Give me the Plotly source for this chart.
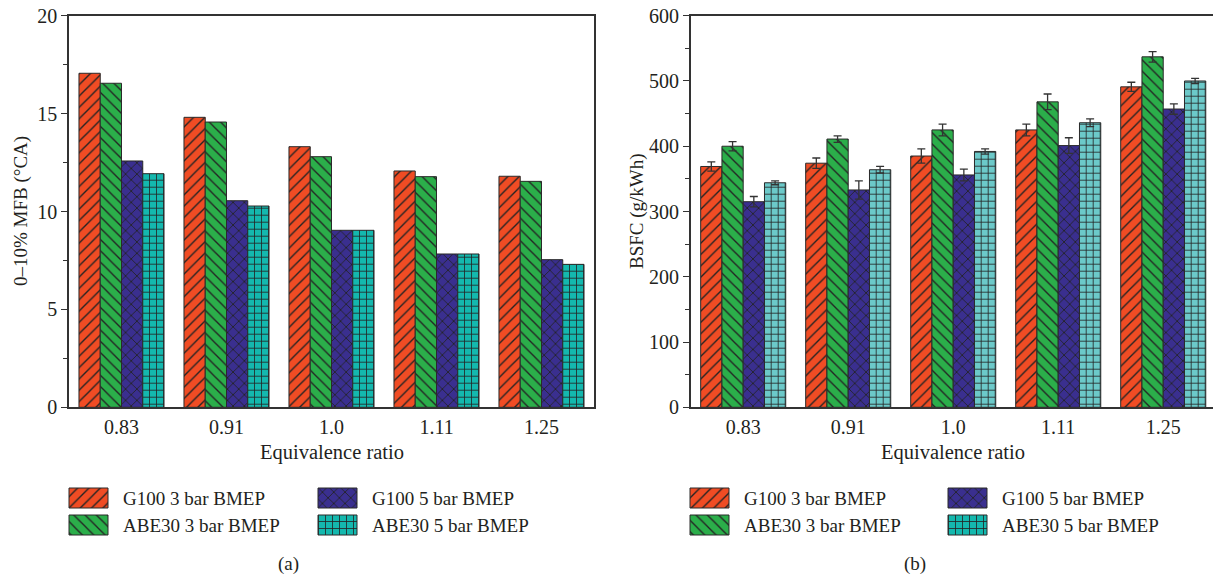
import plotly.graph_objects as go

categories = ["0.83", "0.91", "1.0", "1.11", "1.25"]
series_names = ["G100 3 bar BMEP", "ABE30 3 bar BMEP", "G100 5 bar BMEP", "ABE30 5 bar BMEP"]

mfb_g100_3 = [17.06, 14.81, 13.31, 12.07, 11.80]
mfb_abe30_3 = [16.55, 14.57, 12.80, 11.78, 11.54]
mfb_g100_5 = [12.58, 10.55, 9.04, 7.83, 7.54]
mfb_abe30_5 = [11.93, 10.28, 9.04, 7.83, 7.30]

bsfc_g100_3 = [369, 374, 385, 425, 491]
bsfc_abe30_3 = [400, 411, 425, 468, 537]
bsfc_g100_5 = [315, 333, 356, 401, 457]
bsfc_abe30_5 = [344, 364, 392, 436, 500]

err_g100_3 = [7, 8, 11, 9, 7]
err_abe30_3 = [7, 5, 9, 12, 8]
err_g100_5 = [8, 14, 9, 12, 8]
err_abe30_5 = [3, 5, 4, 6, 4]

FONT = "Liberation Serif"
TXT = "#231F20"
INK = "#232323"
colors_a = ["#F04C24", "#2BAE4A", "#3A2F8F", "#14B8AE"]
colors_b = ["#F04C24", "#2BAE4A", "#3A2F8F", "#6CC9C9"]
shapes = ["/", "\\", "x", "+"]
psizes = [8, 8, 8, 7]
psolid = [0.17, 0.17, 0.2, 0.22]

W, H = 1213, 580
BARW = 0.81 / 4


def pat(i):
    return dict(shape=shapes[i], fillmode="replace", fgcolor=INK,
                size=psizes[i], solidity=psolid[i])


fig = go.Figure()

mfb = [mfb_g100_3, mfb_abe30_3, mfb_g100_5, mfb_abe30_5]
bsfc = [bsfc_g100_3, bsfc_abe30_3, bsfc_g100_5, bsfc_abe30_5]
errs = [err_g100_3, err_abe30_3, err_g100_5, err_abe30_5]


def add_series(xa, ya, vals, color, i, err=None):
    off = -0.405 + i * BARW
    fig.add_trace(go.Bar(
        x=categories, y=vals, name=series_names[i], xaxis=xa, yaxis=ya,
        width=BARW, offset=off, marker=dict(color=color, line=dict(width=0)),
        showlegend=False, hoverinfo="skip"))
    kw = {}
    if err is not None:
        kw["error_y"] = dict(type="data", array=err, color="#333333", thickness=1.3, width=4)
    fig.add_trace(go.Bar(
        x=categories, y=vals, name=series_names[i], xaxis=xa, yaxis=ya,
        width=BARW, offset=off,
        marker=dict(color=INK, line=dict(color="#2a2a2a", width=1), pattern=pat(i)),
        showlegend=False, **kw))


for i in range(4):
    add_series("x", "y", mfb[i], colors_a[i], i)
for i in range(4):
    add_series("x2", "y2", bsfc[i], colors_b[i], i, errs[i])

# legend swatches drawn on a pixel overlay axis
legend_left_x = [69, 318, 690, 948]
legend_rows_y = [488, 515]
order = [(0, 0, 0), (1, 1, 0), (2, 0, 1), (3, 1, 1)]  # series, row, column
for panel in range(2):
    for s, r, c in order:
        lx = legend_left_x[panel * 2 + c]
        ty = legend_rows_y[r]
        fig.add_trace(go.Bar(
            x=[lx], y=[20], base=[ty], width=39, offset=0,
            xaxis="x3", yaxis="y3", showlegend=False, hoverinfo="skip",
            marker=dict(color=colors_a[s], line=dict(width=0))))
        fig.add_trace(go.Bar(
            x=[lx], y=[20], base=[ty], width=39, offset=0,
            xaxis="x3", yaxis="y3", showlegend=False, hoverinfo="skip",
            marker=dict(color=INK, line=dict(color="#2a2a2a", width=1), pattern=pat(s))))
        fig.add_annotation(x=lx + 52, y=ty + 10,
                           xref="x3", yref="y3", text=series_names[s], showarrow=False,
                           xanchor="left", yanchor="middle",
                           font=dict(family=FONT, size=19, color=TXT))

ax_common = dict(showline=True, linecolor="#333333", linewidth=1.5, mirror=True,
                 showgrid=False, zeroline=False, automargin=False,
                 tickfont=dict(family=FONT, size=20, color=TXT))

y_bot = (H - 407.3) / H
y_top = (H - 15.7) / H

fig.update_layout(
    width=W, height=H, margin=dict(l=0, r=0, t=0, b=0, pad=0, autoexpand=False),
    paper_bgcolor="white", plot_bgcolor="rgba(0,0,0,0)", showlegend=False,
    barmode="overlay",
    xaxis=dict(domain=[69 / W, 594 / W], anchor="y", range=[-0.5, 4.5],
               ticks="", ticklabelstandoff=1, **ax_common),
    yaxis=dict(domain=[y_bot, y_top], anchor="x", range=[0, 20], dtick=5,
               ticks="outside", ticklen=6, tickwidth=1.3, tickcolor="#333333",
               minor=dict(dtick=2.5, ticks="outside", ticklen=4, tickwidth=1.2, tickcolor="#333333"),
               **ax_common),
    xaxis2=dict(domain=[690.7 / W, 1.0], anchor="y2", range=[-0.5, 4.474],
                ticks="", ticklabelstandoff=1, **ax_common),
    yaxis2=dict(domain=[y_bot, y_top], anchor="x2", range=[0, 600], dtick=100,
                ticks="outside", ticklen=6, tickwidth=1.3, tickcolor="#333333",
                minor=dict(dtick=50, ticks="outside", ticklen=4, tickwidth=1.2, tickcolor="#333333"),
                **ax_common),
    xaxis3=dict(domain=[0, 1], anchor="y3", range=[0, W], visible=False, automargin=False),
    yaxis3=dict(domain=[0, 1], anchor="x3", range=[H, 0], visible=False, automargin=False),
)

ann_font = dict(family=FONT, size=19, color=TXT)
xt_font = dict(family=FONT, size=20.5, color=TXT)
fig.add_annotation(x=331.7, y=452, xref="x3", yref="y3", text="Equivalence ratio",
                   showarrow=False, font=xt_font)
fig.add_annotation(x=953.3, y=452, xref="x3", yref="y3", text="Equivalence ratio",
                   showarrow=False, font=xt_font)
fig.add_annotation(x=21, y=211, xref="x3", yref="y3", text="0–10% MFB (°CA)",
                   showarrow=False, textangle=-90, font=ann_font)
fig.add_annotation(x=637, y=211, xref="x3", yref="y3", text="BSFC (g/kWh)",
                   showarrow=False, textangle=-90, font=ann_font)
fig.add_annotation(x=288, y=564, xref="x3", yref="y3", text="(a)",
                   showarrow=False, font=ann_font)
fig.add_annotation(x=915, y=564, xref="x3", yref="y3", text="(b)",
                   showarrow=False, font=ann_font)

fig.write_html("out.html")
